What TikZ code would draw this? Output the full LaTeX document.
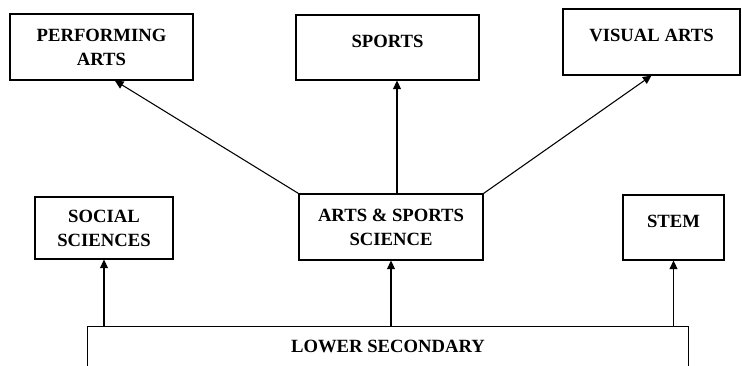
\documentclass[tikz,border=0pt]{standalone}
\usepackage{fontspec}
\setmainfont{Liberation Serif}
\usetikzlibrary{arrows.meta}

\begin{document}
\begin{tikzpicture}[x=0.75pt, y=-0.75pt, line width=0.8pt, >={Triangle[length=6.5pt,width=6pt]},
  font=\fontsize{14}{18}\selectfont\bfseries,
  main/.style = {draw, rectangle, align=center, inner sep=0pt},
  single/.style = {text depth=10pt}]
\useasboundingbox (0,0) rectangle (742,366);
\node[main, minimum width=137.25pt, minimum height=49.5pt] (1) at (101.5,47) {PERFORMING\\ARTS};
\node[main, single, minimum width=137.25pt, minimum height=48.75pt] (2) at (387.5,47.5) {SPORTS};
\node[main, single, minimum width=132.75pt, minimum height=49.5pt] (3) at (651.5,42) {VISUAL ARTS};
\node[main, minimum width=103.5pt, minimum height=46.5pt] (4) at (104,228) {SOCIAL\\SCIENCES};
\node[main, minimum width=138pt, minimum height=49.5pt] (5) at (391,227) {ARTS \& SPORTS\\SCIENCE};
\node[main, single, minimum width=75.75pt, minimum height=48.75pt] (6) at (673.5,227.5) {STEM};
\node[inner sep=0pt, minimum width=450pt, minimum height=29.25pt] (7) at (388,346.5) {LOWER SECONDARY};
\draw (7.south west) -- (7.north west) -- (7.north east) -- (7.south east);
\path [->] (7.north -| 4.south) edge (4.south);
\path [->] (7.north -| 5.south) edge (5.south);
\path [->] (7.north -| 6.south) edge (6.south);
\path [->] (5.north west) edge ([xshift=10pt]1.south);
\path [->] ([xshift=4.5pt]5.north) edge ([xshift=4.5pt]5.north |- 2.south);
\path [->] (5.north east) edge (3.south);
\end{tikzpicture}
\end{document}
